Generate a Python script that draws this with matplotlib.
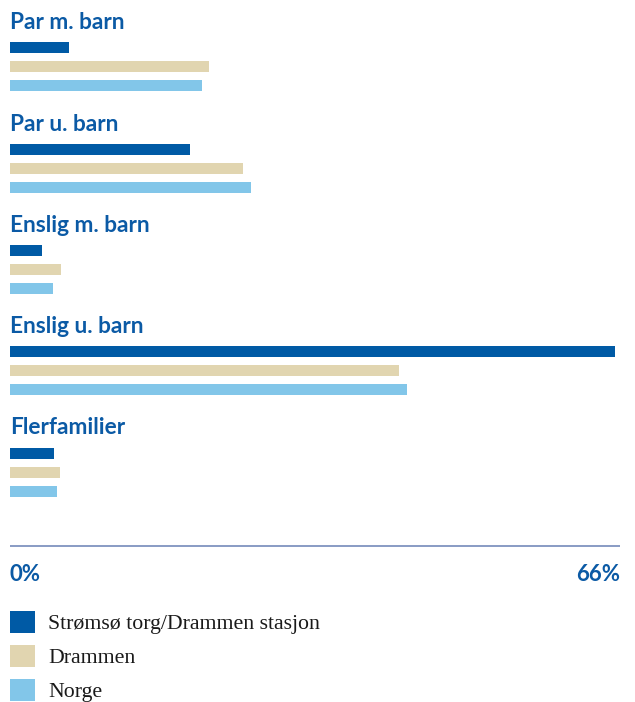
import matplotlib
matplotlib.use("Agg")
import matplotlib.pyplot as plt
from matplotlib.patches import Patch

categories = ["Par m. barn", "Par u. barn", "Enslig m. barn", "Enslig u. barn", "Flerfamilier"]
series_names = ["Strømsø torg/Drammen stasjon", "Drammen", "Norge"]
stromso = [6.4, 19.5, 3.5, 65.5, 4.8]
drammen = [21.5, 25.2, 5.5, 42.1, 5.4]
norge = [20.8, 26.1, 4.7, 43.0, 5.1]
x_max = 66
tick_labels = ["0%", "66%"]

colors = ["#005aa5", "#e1d5b0", "#82c6e9"]
title_color = "#0b5aa5"
axis_color = "#7f93bf"

W, H = 635, 702
fig = plt.figure(figsize=(W / 100, H / 100), dpi=100)
ax = fig.add_axes([10 / W, 0, 610 / W, 1])
ax.set_xlim(0, x_max)
ax.set_ylim(H, 0)  # y in pixels from top
ax.axis("off")

first = 47.8
group_step = 101.3
bar_step = 19.0
bar_h = 11.0

series = [stromso, drammen, norge]
for gi, cat in enumerate(categories):
    base = first + gi * group_step
    ax.text(0, base - 18.5, cat, ha="left", va="baseline", color=title_color,
            fontsize=16.3, fontweight="bold", family=["Lato", "DejaVu Sans"])
    for si, vals in enumerate(series):
        ax.barh(base + si * bar_step, vals[gi], height=bar_h, left=0,
                color=colors[si], edgecolor="none")

# axis line
ax.plot([0, x_max], [545.8, 545.8], color=axis_color, lw=1.3, solid_capstyle="butt")
ax.text(0, 580.7, tick_labels[0], ha="left", va="baseline", color=title_color,
        fontsize=16, fontweight="bold", family=["Lato", "DejaVu Sans"])
ax.text(x_max, 580.7, tick_labels[1], ha="right", va="baseline", color=title_color,
        fontsize=16, fontweight="bold", family=["Lato", "DejaVu Sans"])

handles = [Patch(facecolor=c, edgecolor="none") for c in colors]
fs = 15.7
leg = fig.legend(handles, series_names, loc="upper left",
                 bbox_to_anchor=(10 / W, 1 - 611 / H), frameon=False,
                 borderpad=0, borderaxespad=0, handlelength=1.16, handleheight=1.14,
                 handletextpad=0.6, labelspacing=0.5,
                 prop={"family": ["Liberation Serif", "DejaVu Serif"], "size": fs})
for t in leg.get_texts():
    t.set_color("#1a1a1a")

fig.savefig("out.png", dpi=100)
